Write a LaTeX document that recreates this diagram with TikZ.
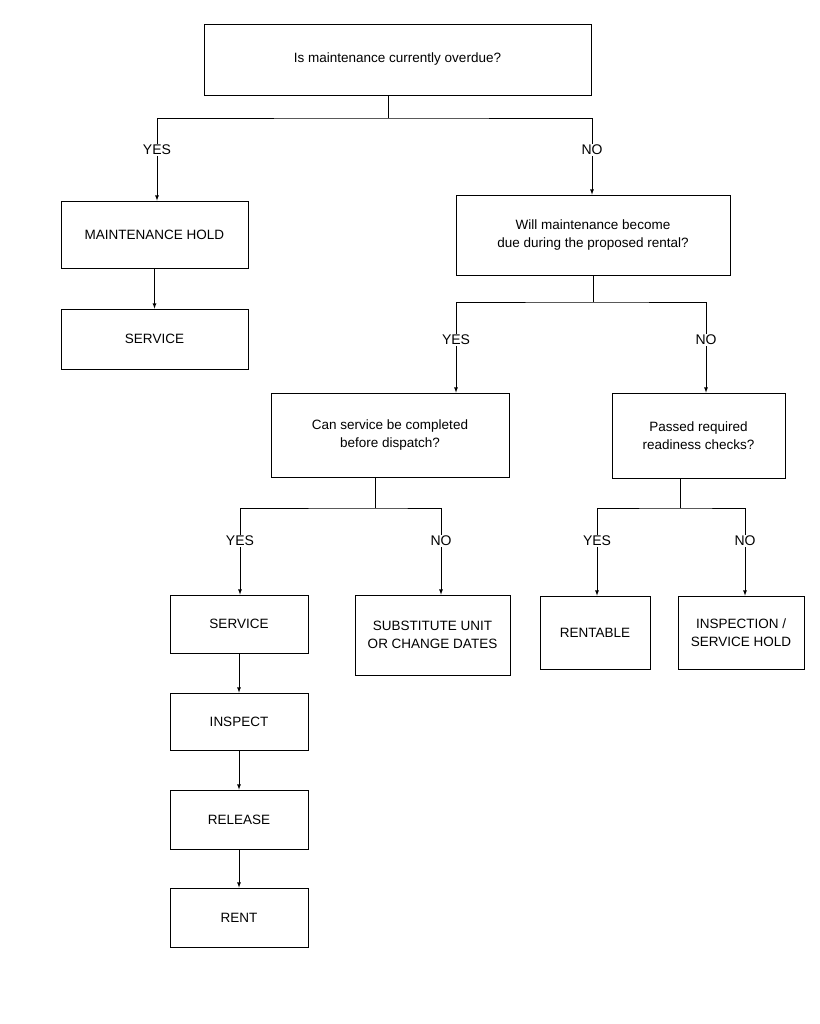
\documentclass[tikz,border=0pt]{standalone}
\usepackage{fontspec}
\setmainfont{Liberation Sans}
\begin{document}
\begin{tikzpicture}[x=1pt,y=-1pt,
 box/.style={draw,thick,align=center,font=\fontsize{13.5}{18}\selectfont,inner sep=0pt},
 lab/.style={font=\fontsize{14}{16}\selectfont,inner sep=1pt},
 ln/.style={thick},
 ar/.style={thick,-latex}]
\useasboundingbox (0,0) rectangle (819,1024);
\newcommand{\bx}[6]{\node[box,minimum width=#4-#3,minimum height=#6-#5] (#1) at ({(#3+#4)/2},{(#5+#6)/2}) {#2};}
\bx{q1}{Is maintenance currently overdue?}{204}{591}{24}{95}
\bx{mh}{MAINTENANCE HOLD}{61}{248}{201}{268}
\bx{sv1}{SERVICE}{61}{248}{309}{369}
\bx{q2}{Will maintenance become\\due during the proposed rental?}{456}{730}{195}{275}
\bx{q3}{Can service be completed\\before dispatch?}{271}{509}{393}{477}
\bx{q4}{Passed required\\readiness checks?}{612}{785}{393}{478}
\bx{sv2}{SERVICE}{170}{308}{595}{653}
\bx{ins}{INSPECT}{170}{308}{693}{750}
\bx{rel}{RELEASE}{170}{308}{790}{849}
\bx{rent}{RENT}{170}{308}{888}{947}
\bx{sub}{SUBSTITUTE UNIT\\OR CHANGE DATES}{355}{510}{595}{675}
\bx{rtb}{RENTABLE}{540}{650}{596}{669}
\bx{ish}{INSPECTION /\\SERVICE HOLD}{678}{804}{596}{669}
\node[lab] (y1) at (157,150) {YES};
\node[lab] (n1) at (592,150) {NO};
\node[lab] (y2) at (456,340) {YES};
\node[lab] (n2) at (706,340) {NO};
\node[lab] (y3) at (240,541) {YES};
\node[lab] (n3) at (441,541) {NO};
\node[lab] (y4) at (597,541) {YES};
\node[lab] (n4) at (745,541) {NO};
\coordinate (s1) at (388,118);
\coordinate (s2) at (593,302);
\coordinate (s3) at (375,508);
\coordinate (s4) at (680,508);
\draw[ln] (q1.south -| s1) -- (s1);
\draw[ln] (y1.north) |- (s1) -| (n1.north);
\draw[ln] (q2.south -| s2) -- (s2);
\draw[ln] (y2.north) |- (s2) -| (n2.north);
\draw[ln] (q3.south -| s3) -- (s3);
\draw[ln] (y3.north) |- (s3) -| (n3.north);
\draw[ln] (q4.south -| s4) -- (s4);
\draw[ln] (y4.north) |- (s4) -| (n4.north);
\draw[ar] (y1.south) -- (y1.south |- mh.north);
\draw[ar] (n1.south) -- (n1.south |- q2.north);
\draw[ar] (y2.south) -- (y2.south |- q3.north);
\draw[ar] (n2.south) -- (n2.south |- q4.north);
\draw[ar] (y3.south) -- (y3.south |- sv2.north);
\draw[ar] (n3.south) -- (n3.south |- sub.north);
\draw[ar] (y4.south) -- (y4.south |- rtb.north);
\draw[ar] (n4.south) -- (n4.south |- ish.north);
\draw[ar] (mh) -- (sv1);
\draw[ar] (sv2) -- (ins);
\draw[ar] (ins) -- (rel);
\draw[ar] (rel) -- (rent);
\end{tikzpicture}
\end{document}
